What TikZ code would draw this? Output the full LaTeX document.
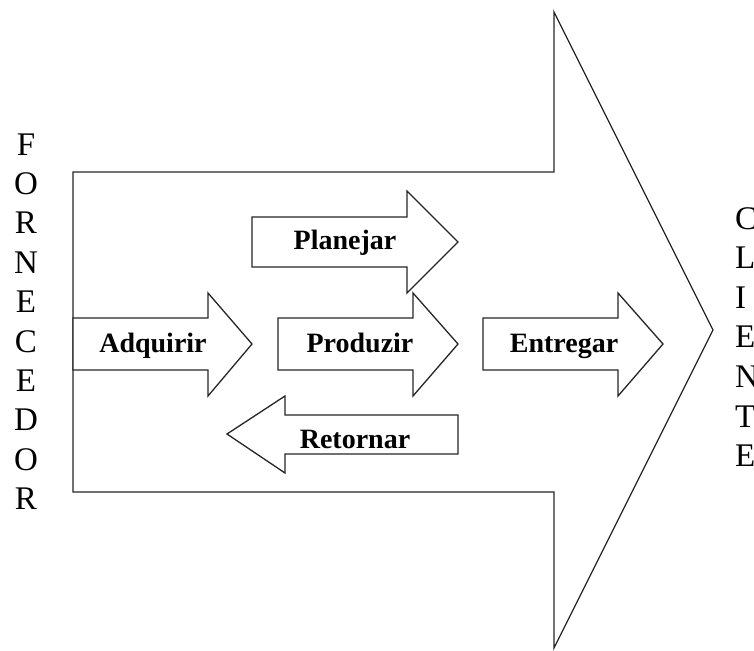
\documentclass[tikz,border=0pt]{standalone}
\usepackage{fontspec}
\setmainfont{Liberation Serif}
\begin{document}
\begin{tikzpicture}[x=1pt,y=-1pt,
  shape line/.style={draw=black!85,line width=1.3pt,line join=miter,fill=white},
  label text/.style={font=\fontsize{28}{32}\selectfont\bfseries,inner sep=0pt,anchor=base},
  letter/.style={font=\fontsize{33}{39}\selectfont,inner sep=0pt,anchor=base}]
\useasboundingbox (0,0) rectangle (754,650);
% big arrow
\draw[shape line] (73,172) -- (554,172) -- (554,12) -- (713,330) -- (554,648) -- (554,492) -- (73,492) -- cycle;
% Planejar
\draw[shape line] (252,217) -- (407,217) -- (407,191) -- (458,242) -- (407,293) -- (407,267) -- (252,267) -- cycle;
% Adquirir
\draw[shape line] (73,318) -- (208,318) -- (208,293) -- (252,344) -- (208,396) -- (208,370) -- (73,370) -- cycle;
% Produzir
\draw[shape line] (278,318) -- (413,318) -- (413,293) -- (458,344) -- (413,396) -- (413,370) -- (278,370) -- cycle;
% Entregar
\draw[shape line] (483,318) -- (618,318) -- (618,293) -- (663,344) -- (618,396) -- (618,370) -- (483,370) -- cycle;
% Retornar
\draw[shape line] (458,415) -- (285,415) -- (285,396) -- (227,434) -- (285,473) -- (285,454) -- (458,454) -- cycle;
% labels
\node[label text] (planejar) at (345,249) {Planejar};
\node[label text] (adquirir) at (153,352) {Adquirir};
\node[label text] (produzir) at (360,352) {Produzir};
\node[label text] (entregar) at (564,352) {Entregar};
\node[label text] (retornar) at (355,448) {Retornar};
% side letters
\foreach \l [count=\i] in {F,O,R,N,E,C,E,D,O,R}
  \node[letter] (forn\i) at (26,{155+39.4*(\i-1)}) {\l};
\foreach \l [count=\i] in {C,L,I,E,N,T,E}
  \node[letter,anchor=base west] (cli\i) at (735,{229+39.6*(\i-1)}) {\l};
\end{tikzpicture}
\end{document}
